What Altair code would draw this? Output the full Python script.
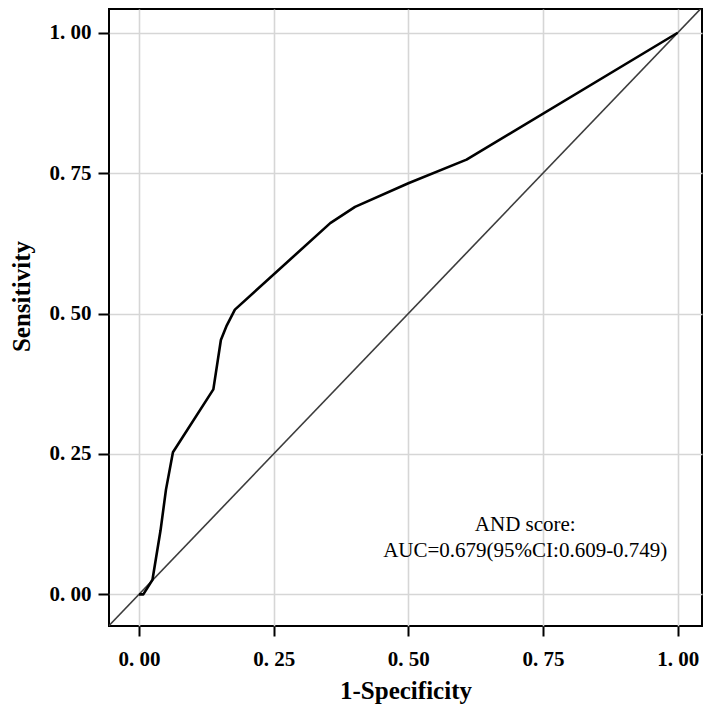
import altair as alt
import pandas as pd

# ROC curve
fpr = [0.0, 0.008, 0.025, 0.040, 0.050, 0.063, 0.138, 0.152, 0.163, 0.178, 0.355, 0.401, 0.500, 0.608, 1.0]
tpr = [0.0, 0.0, 0.026, 0.114, 0.186, 0.253, 0.365, 0.453, 0.479, 0.507, 0.661, 0.690, 0.732, 0.774, 1.0]
diag = [-0.2, 1.2]
ticks = [0.0, 0.25, 0.5, 0.75, 1.0]
note_lines = ["AND score:", "AUC=0.679(95%CI:0.609-0.749)"]

roc = pd.DataFrame({"fpr": fpr, "tpr": tpr, "order": list(range(len(fpr)))})
ref = pd.DataFrame({"fpr": diag, "tpr": diag})

FONT = "Liberation Serif"
xscale = alt.Scale(domain=[-0.0557, 1.0451], nice=False, zero=False)
yscale = alt.Scale(domain=[-0.0564, 1.0423], nice=False, zero=False)

xaxis = alt.Axis(values=ticks, labelExpr="replace(format(datum.value, '.2f'), '.', '. ')",
                 tickSize=10, labelPadding=12, title="1-Specificity",
                 titleBaseline="alphabetic", titleY=72)
yaxis = alt.Axis(values=ticks, labelExpr="replace(format(datum.value, '.2f'), '.', '. ')",
                 tickSize=11, labelPadding=7, title="Sensitivity",
                 titleBaseline="alphabetic", titleAngle=270, titleAlign="center",
                 titleX=-80, titleY=287)

base_diag = alt.Chart(ref).mark_line(color="#3c3c3c", strokeWidth=1.6, clip=True).encode(
    x=alt.X("fpr:Q", scale=xscale, axis=xaxis),
    y=alt.Y("tpr:Q", scale=yscale, axis=yaxis),
)

curve = alt.Chart(roc).mark_line(color="black", strokeWidth=2.6, strokeJoin="round").encode(
    x=alt.X("fpr:Q", scale=xscale),
    y=alt.Y("tpr:Q", scale=yscale),
    order="order:Q",
)

note = alt.Chart(pd.DataFrame({"a": [0]})).mark_text(
    font=FONT, fontSize=21, color="black", align="center", baseline="alphabetic", lineHeight=26,
    text=note_lines,
).encode(
    x=alt.datum(0.717, scale=xscale),
    y=alt.datum(0.113, scale=yscale),
)

chart = alt.layer(base_diag, curve, note).properties(
    width=593, height=617,
    autosize=alt.AutoSizeParams(type="none"),
    padding={"left": 101, "top": 1, "right": 1, "bottom": 79},
).configure_view(
    stroke="black", strokeWidth=2
).configure_axis(
    labelFont=FONT, labelFontSize=21, labelFontWeight="bold", labelColor="black",
    titleFont=FONT, titleFontSize=25, titleFontWeight="bold", titleColor="black",
    tickColor="black", tickWidth=2, domain=False,
    gridColor="#d6d6d6", gridWidth=1.6,
)

chart.save("out.html", embed_options={"renderer": "svg", "actions": False})
